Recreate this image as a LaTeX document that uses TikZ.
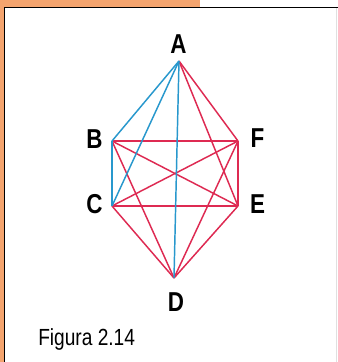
\documentclass[tikz,border=0pt]{standalone}
\usepackage{fontspec}
\setmainfont{Liberation Sans}
\newfontfamily\lblfont[FakeStretch=0.82]{Liberation Sans}
\definecolor{frameorange}{RGB}{244,164,110}
\definecolor{edgeblue}{RGB}{40,152,205}
\definecolor{edgered}{RGB}{222,42,82}
\begin{document}
\begin{tikzpicture}[x=0.75pt,y=-0.75pt,
  lbl/.style={font=\lblfont\bfseries\fontsize{20.5}{22}\selectfont, inner sep=0pt, anchor=center},
  captiontext/.style={font=\lblfont\fontsize{17.5}{19}\selectfont, inner sep=0pt, anchor=base west},
  be/.style={draw=edgeblue, line width=1.1pt},
  re/.style={draw=edgered, line width=1.1pt}]
\useasboundingbox (0,0) rectangle (338,362);
\fill[white] (0,0) rectangle (338,362);
% frame
\fill[frameorange] (0,0) rectangle (200,7.5);
\fill[frameorange] (0,0) rectangle (4,362);
\draw[black, line width=1.1pt] (4.6,362) -- (4.6,7.6) -- (338,7.6);
\draw[black!12, line width=0.6pt] (336.5,8) -- (336.5,362);
% vertices
\coordinate (a) at (179,61);
\coordinate (b) at (112,141);
\coordinate (f) at (238,141);
\coordinate (c) at (112,206);
\coordinate (e) at (238,206);
\coordinate (d) at (174,278);
% red edges
\draw[re] (a) -- (f);
\draw[re] (a) -- (e);
\draw[re] (b) -- (f);
\draw[re] (b) -- (e);
\draw[re] (b) -- (d);
\draw[re] (c) -- (f);
\draw[re] (c) -- (e);
\draw[re] (c) -- (d);
\draw[re] (f) -- (e);
\draw[re] (f) -- (d);
\draw[re] (e) -- (d);
% blue edges
\draw[be] (a) -- (b);
\draw[be] (a) -- (c);
\draw[be] (a) -- (d);
\draw[be] (b) -- (c);
% labels
\node[lbl] (la) at (178.5,44) {A};
\node[lbl] (lb) at (94.5,139) {B};
\node[lbl] (lc) at (94.5,204.5) {C};
\node[lbl] (lf) at (257.5,138.5) {F};
\node[lbl] (le) at (257.5,204) {E};
\node[lbl] (ld) at (176,302.5) {D};
\node[captiontext] (fig) at (38,345) {Figura 2.14};
\end{tikzpicture}
\end{document}
